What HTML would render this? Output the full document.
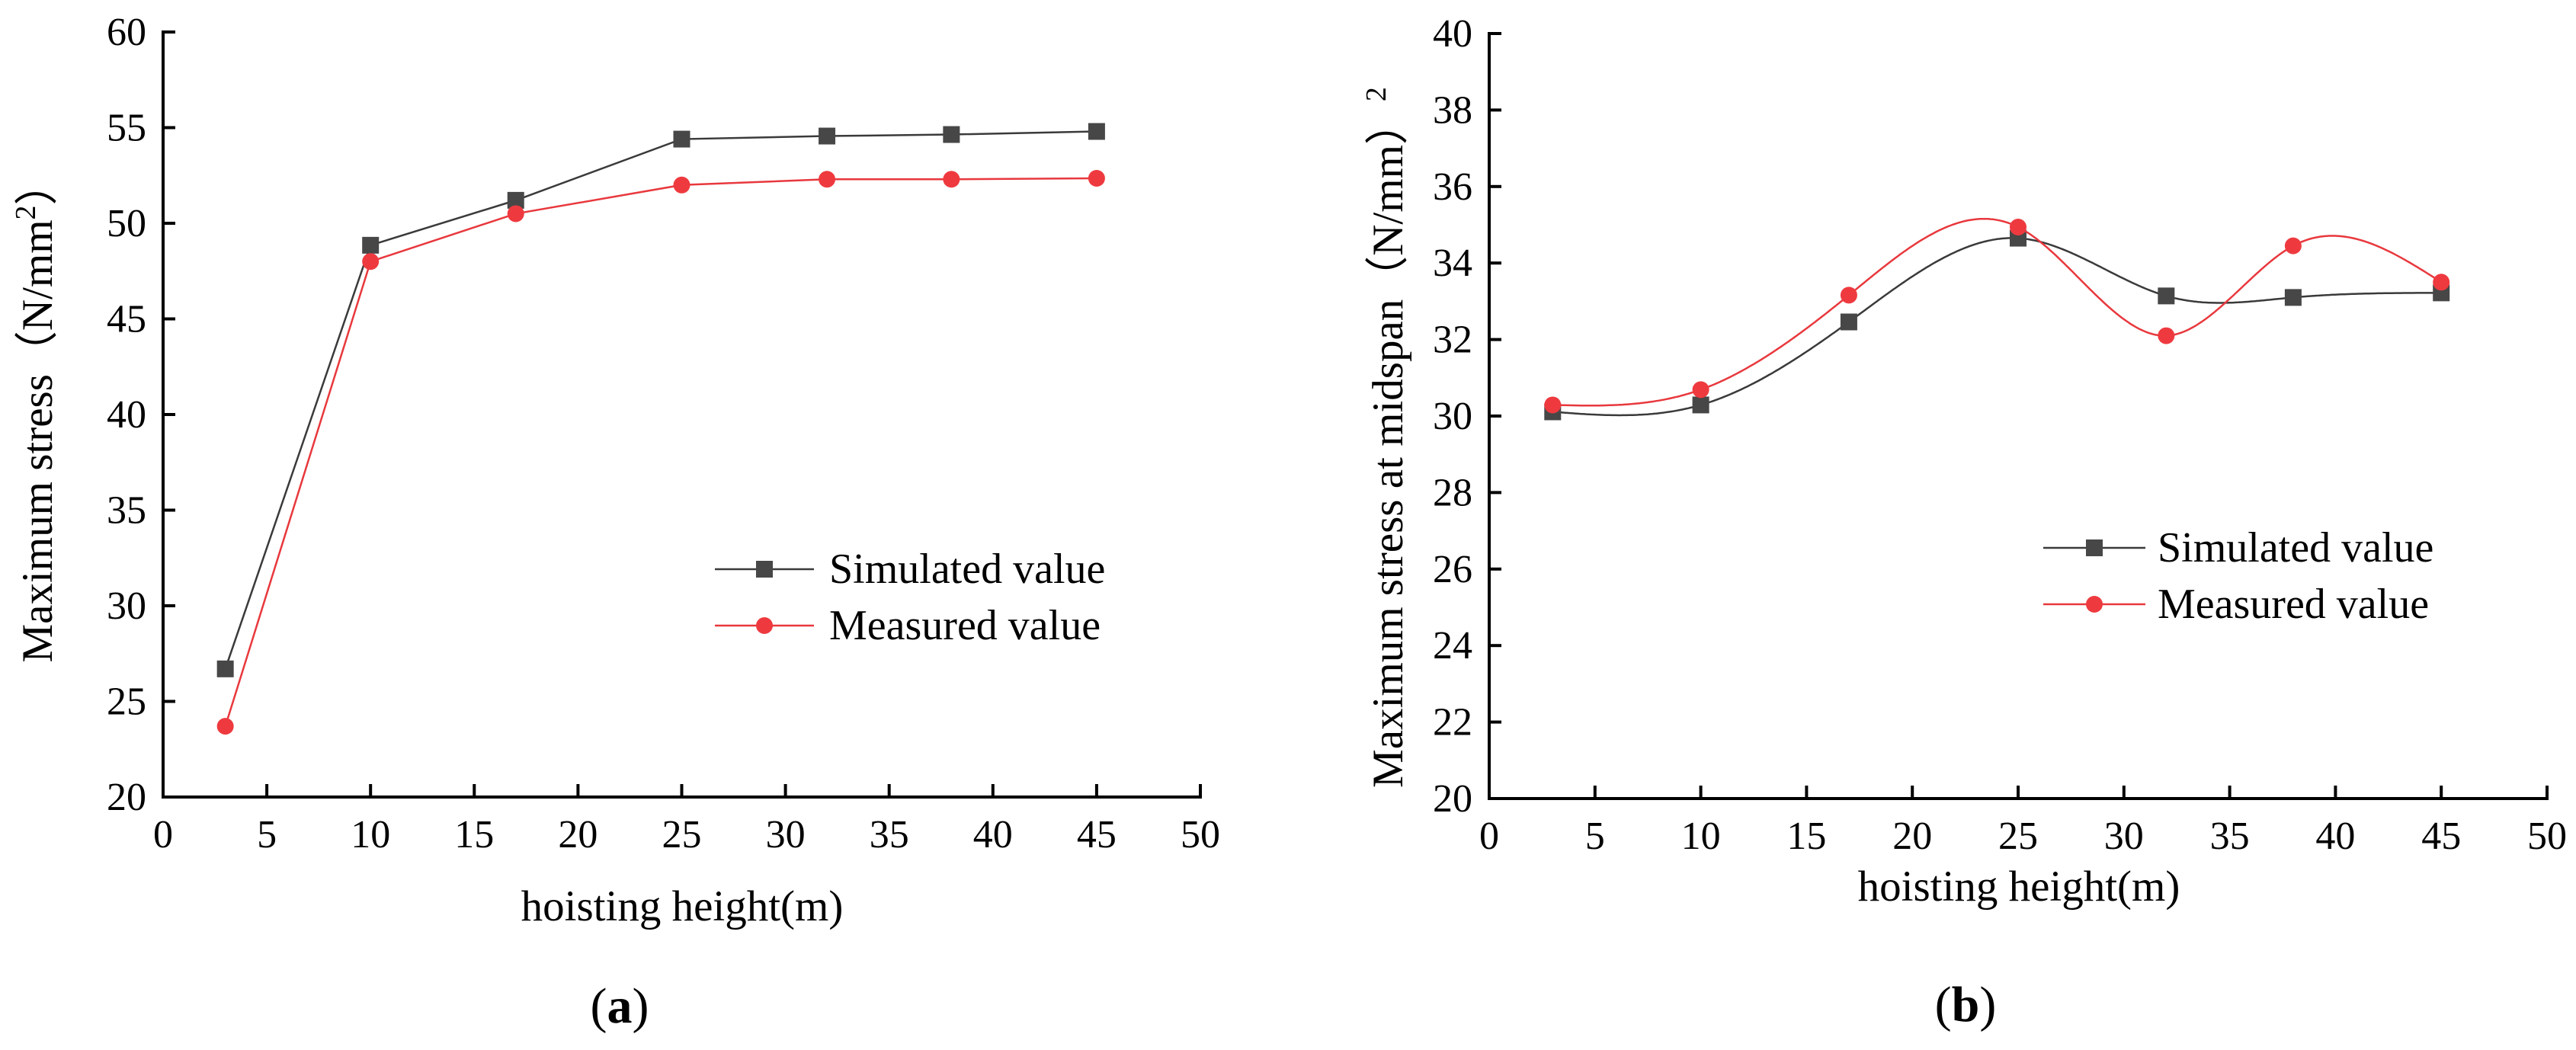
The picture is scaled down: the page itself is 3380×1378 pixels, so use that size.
<!DOCTYPE html>
<html><head><meta charset="utf-8">
<style>
html,body{margin:0;padding:0;background:#fff;font-family:"Liberation Serif","Times New Roman",serif;}
svg{display:block;font-family:"Liberation Serif","Times New Roman",serif;}
svg text{font-family:"Liberation Serif","Times New Roman",serif !important;fill:#000;}
</style></head>
<body>
<svg id="fig" width="3380" height="1378" viewBox="0 0 3380 1378" xmlns="http://www.w3.org/2000/svg" font-family="Liberation Serif, serif"></svg>
<script>
// shared x data
const heights = [3, 10, 17, 25, 32, 38, 45];
const xTicks = [0, 5, 10, 15, 20, 25, 30, 35, 40, 45, 50];
// chart (a)
const aSimulated = [26.7, 48.85, 51.2, 54.4, 54.56, 54.64, 54.8];
const aMeasured = [23.7, 48.0, 50.5, 52.0, 52.3, 52.3, 52.35];
const aYTicks = [20, 25, 30, 35, 40, 45, 50, 55, 60];
// chart (b)
const bSimulated = [30.11, 30.29, 32.46, 34.65, 33.14, 33.1, 33.22];
const bMeasured = [30.29, 30.69, 33.16, 34.94, 32.1, 34.45, 33.5];
const bYTicks = [20, 22, 24, 26, 28, 30, 32, 34, 36, 38, 40];

const NS = "http://www.w3.org/2000/svg";
const FONT = '"Liberation Serif", "Noto Serif CJK SC", serif';
const svg = document.getElementById('fig');
function mk(tag, attrs, parent){
  const e = document.createElementNS(NS, tag);
  for (const k in attrs) e.setAttribute(k, attrs[k]);
  if (tag === 'text') e.setAttribute('style', 'font-family:' + FONT);
  (parent||svg).appendChild(e);
  return e;
}
function spline(xs, ys){
  const n = xs.length, h=[], al=[], l=[1], mu=[0], z=[0], c=new Array(n).fill(0), b=[], d=[];
  for(let i=0;i<n-1;i++) h.push(xs[i+1]-xs[i]);
  for(let i=1;i<n-1;i++) al[i]=3/h[i]*(ys[i+1]-ys[i])-3/h[i-1]*(ys[i]-ys[i-1]);
  for(let i=1;i<n-1;i++){ l[i]=2*(xs[i+1]-xs[i-1])-h[i-1]*mu[i-1]; mu[i]=h[i]/l[i]; z[i]=(al[i]-h[i-1]*z[i-1])/l[i]; }
  z[n-1]=0;
  for(let j=n-2;j>=0;j--){ c[j]=z[j]-mu[j]*c[j+1]; b[j]=(ys[j+1]-ys[j])/h[j]-h[j]*(c[j+1]+2*c[j])/3; d[j]=(c[j+1]-c[j])/(3*h[j]); }
  return function(x){ let j=0; while(j<n-2 && x>xs[j+1]) j++; const t=x-xs[j]; return ys[j]+b[j]*t+c[j]*t*t+d[j]*t*t*t; };
}
function drawChart(cfg){
  const g = mk('g', {});
  
  
  const X = v => cfg.x0 + (v - 0) / 50 * (cfg.x1 - cfg.x0);
  const Y = v => cfg.yB + (v - cfg.ymin) / (cfg.ymax - cfg.ymin) * (cfg.yT - cfg.yB);
  const ya = mk('line', {x1:cfg.x0, y1:cfg.yT-2, x2:cfg.x0, y2:cfg.yB+2, stroke:'#000','stroke-width':4}, g);
   
  const xa = mk('line', {x1:cfg.x0-2, y1:cfg.yB, x2:cfg.x1+2, y2:cfg.yB, stroke:'#000','stroke-width':4}, g);
   
  cfg.yTicks.forEach(v=>{
    mk('line', {x1:cfg.x0, y1:Y(v), x2:cfg.x0+16, y2:Y(v), stroke:'#000','stroke-width':4}, g);
    const t = mk('text', {x:cfg.x0-22, y:Y(v)+17, 'text-anchor':'end','font-size':52}, g);
     
    t.textContent = v;
  });
  xTicks.forEach(v=>{
    mk('line', {x1:X(v), y1:cfg.yB, x2:X(v), y2:cfg.yB-17, stroke:'#000','stroke-width':4}, g);
    const t = mk('text', {x:X(v), y:cfg.xLabY, 'text-anchor':'middle','font-size':52}, g);
     
    t.textContent = v;
  });
  function series(vals, color, marker, nm){
    let d='';
    if (cfg.smooth){
      const f = spline(heights, vals);
      for(let x=heights[0]; x<=heights[heights.length-1]+1e-9; x+=0.1){ d += (d?'L':'M') + X(x).toFixed(1)+','+Y(f(x)).toFixed(1); }
    } else {
      heights.forEach((h,i)=>{ d += (i?'L':'M') + X(h)+','+Y(vals[i]); });
    }
    const p = mk('path', {d:d, fill:'none', stroke:color, 'stroke-width':2.5}, g);
     
    heights.forEach((h,i)=>{
      let m;
      if (marker==='square') m = mk('rect', {x:X(h)-11, y:Y(vals[i])-11, width:22, height:22, fill:'#474747'}, g);
      else m = mk('circle', {cx:X(h), cy:Y(vals[i]), r:11, fill:'#ee3a3f'}, g);
       
    });
  }
  series(cfg.sim, '#3a3a3a', 'square', 'simulated');
  series(cfg.meas, '#e8383d', 'circle', 'measured');
  const L = cfg.leg;
  const lg = mk('g', {}, g);
   
  mk('line', {x1:L.x1, y1:L.y1, x2:L.x2, y2:L.y1, stroke:'#3a3a3a','stroke-width':2.5}, lg);
  mk('rect', {x:(L.x1+L.x2)/2-11, y:L.y1-11, width:22, height:22, fill:'#474747'}, lg);
  const t1 = mk('text', {x:L.tx, y:L.y1+18, 'font-size':56}, lg);
   
  t1.textContent = 'Simulated value';
  mk('line', {x1:L.x1, y1:L.y2, x2:L.x2, y2:L.y2, stroke:'#e8383d','stroke-width':2.5}, lg);
  mk('circle', {cx:(L.x1+L.x2)/2, cy:L.y2, r:11, fill:'#ee3a3f'}, lg);
  const t2 = mk('text', {x:L.tx, y:L.y2+18, 'font-size':56}, lg);
   
  t2.textContent = 'Measured value';
  const xt = mk('text', {x:cfg.xTitle[0], y:cfg.xTitle[1], 'text-anchor':'middle','font-size':57}, g);
   
  xt.textContent = 'hoisting height(m)';
  const yt = mk('text', {x:0, y:0, 'text-anchor':'middle','font-size':57, transform:'translate('+cfg.yTitle[0]+','+cfg.yTitle[1]+') rotate(-90)'}, g);
   
  yt.innerHTML = cfg.yTitleHTML;
  const cap = mk('text', {x:cfg.cap[0], y:cfg.cap[1], 'text-anchor':'middle','font-size':66}, g);
   
  cap.innerHTML = cfg.capHTML;
}
drawChart({name:'chart-a', x0:214, x1:1575, yT:42, yB:1046, ymin:20, ymax:60, yTicks:aYTicks,
  sim:aSimulated, meas:aMeasured, smooth:false, xLabY:1112,
  leg:{x1:938, x2:1068, tx:1088, y1:747, y2:821},
  xTitle:[895,1208], yTitle:[68,541],
  yTitleHTML:'Maximum stress（N/mm<tspan dy="-22" font-size="38">2</tspan><tspan dy="22">）</tspan>',
  cap:[813,1342], capHTML:'(<tspan font-weight="bold">a</tspan>)'});
drawChart({name:'chart-b', x0:1954, x1:3342, yT:44, yB:1048, ymin:20, ymax:40, yTicks:bYTicks,
  sim:bSimulated, meas:bMeasured, smooth:true, xLabY:1114,
  leg:{x1:2681, x2:2815, tx:2831, y1:719, y2:793},
  xTitle:[2649,1182], yTitle:[1840,574],
  yTitleHTML:'Maximum stress at midspan（N/mm）<tspan dy="-22" font-size="38">2</tspan>',
  cap:[2579,1340], capHTML:'(<tspan font-weight="bold">b</tspan>)'});
</script>
</body></html>
